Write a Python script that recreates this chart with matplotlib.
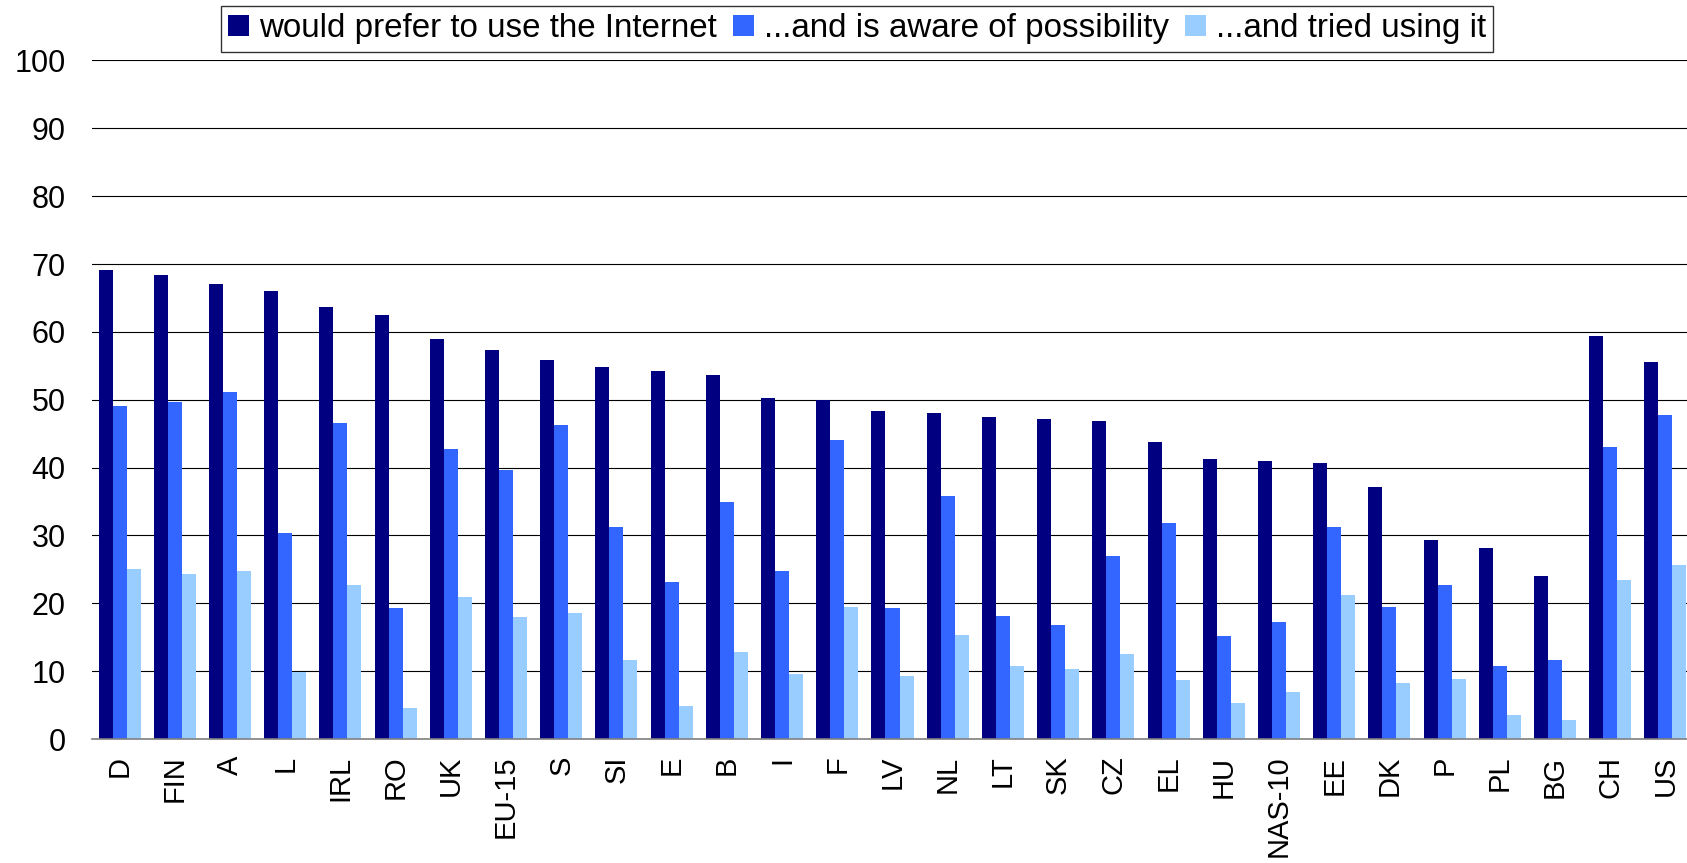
import matplotlib.pyplot as plt
import numpy as np

plt.rcParams['font.family'] = ['Liberation Sans', 'DejaVu Sans']

countries = ["D", "FIN", "A", "L", "IRL", "RO", "UK", "EU-15", "S", "SI", "E", "B", "I", "F",
             "LV", "NL", "LT", "SK", "CZ", "EL", "HU", "NAS-10", "EE", "DK", "P", "PL", "BG",
             "CH", "US"]

prefer = [69.1, 68.4, 67.1, 66.1, 63.7, 62.5, 58.9, 57.4, 55.9, 54.9, 54.3, 53.6, 50.2, 50.0,
          48.4, 48.0, 47.4, 47.2, 46.8, 43.8, 41.3, 41.0, 40.7, 37.2, 29.4, 28.2, 24.0,
          59.4, 55.6]
aware = [49.1, 49.6, 51.1, 30.3, 46.6, 19.3, 42.7, 39.6, 46.3, 31.2, 23.2, 35.0, 24.7, 44.1,
         19.3, 35.8, 18.1, 16.8, 26.9, 31.8, 15.2, 17.2, 31.3, 19.4, 22.7, 10.7, 11.6,
         43.1, 47.8]
tried = [25.0, 24.3, 24.7, 9.9, 22.7, 4.6, 21.0, 18.0, 18.5, 11.6, 4.9, 12.8, 9.6, 19.4,
         9.3, 15.3, 10.7, 10.3, 12.5, 8.7, 5.3, 6.9, 21.2, 8.2, 8.8, 3.5, 2.8,
         23.5, 25.7]

labels = ["would prefer to use the Internet", "...and is aware of possibility", "...and tried using it"]
colors = ["#000080", "#3366FF", "#99CCFF"]

W, H = 1687, 863
fig = plt.figure(figsize=(W / 100, H / 100), dpi=100)
# plot area runs a little past the right edge of the figure
ax = fig.add_axes([92 / W, 124 / H, 1601 / W, 678.5 / H])

x = np.arange(len(countries))
w = 0.254
for i, (vals, c, lab) in enumerate(zip([prefer, aware, tried], colors, labels)):
    ax.bar(x + (i - 1) * w, vals, width=w, color=c, label=lab, zorder=3)

ax.set_xlim(-0.5, len(countries) - 0.5)
ax.set_ylim(0, 100)
ax.set_yticks(range(0, 101, 10))
ax.yaxis.grid(True, color="black", linewidth=0.8, zorder=0)
ax.set_axisbelow(True)
for s in ["top", "right", "left"]:
    ax.spines[s].set_visible(False)
ax.spines["bottom"].set_color("#808080")
ax.spines["bottom"].set_linewidth(1.2)
ax.spines["bottom"].set_zorder(4)

ax.set_xticks(x)
ax.set_xticklabels(countries, rotation=90, fontsize=21)
ax.tick_params(axis="x", length=0, pad=12)
ax.tick_params(axis="y", length=0, pad=19, labelsize=22)

leg = fig.legend(loc="upper left", bbox_to_anchor=(221 / W, 1 - 6 / H), ncol=3,
                 fontsize=23.9, frameon=True, fancybox=False, edgecolor="black",
                 handlelength=0.62, handleheight=0.62, handletextpad=0.3,
                 columnspacing=0.5, borderpad=0.22, borderaxespad=0)
leg.get_frame().set_linewidth(1.0)

fig.savefig("out.png", dpi=100)
